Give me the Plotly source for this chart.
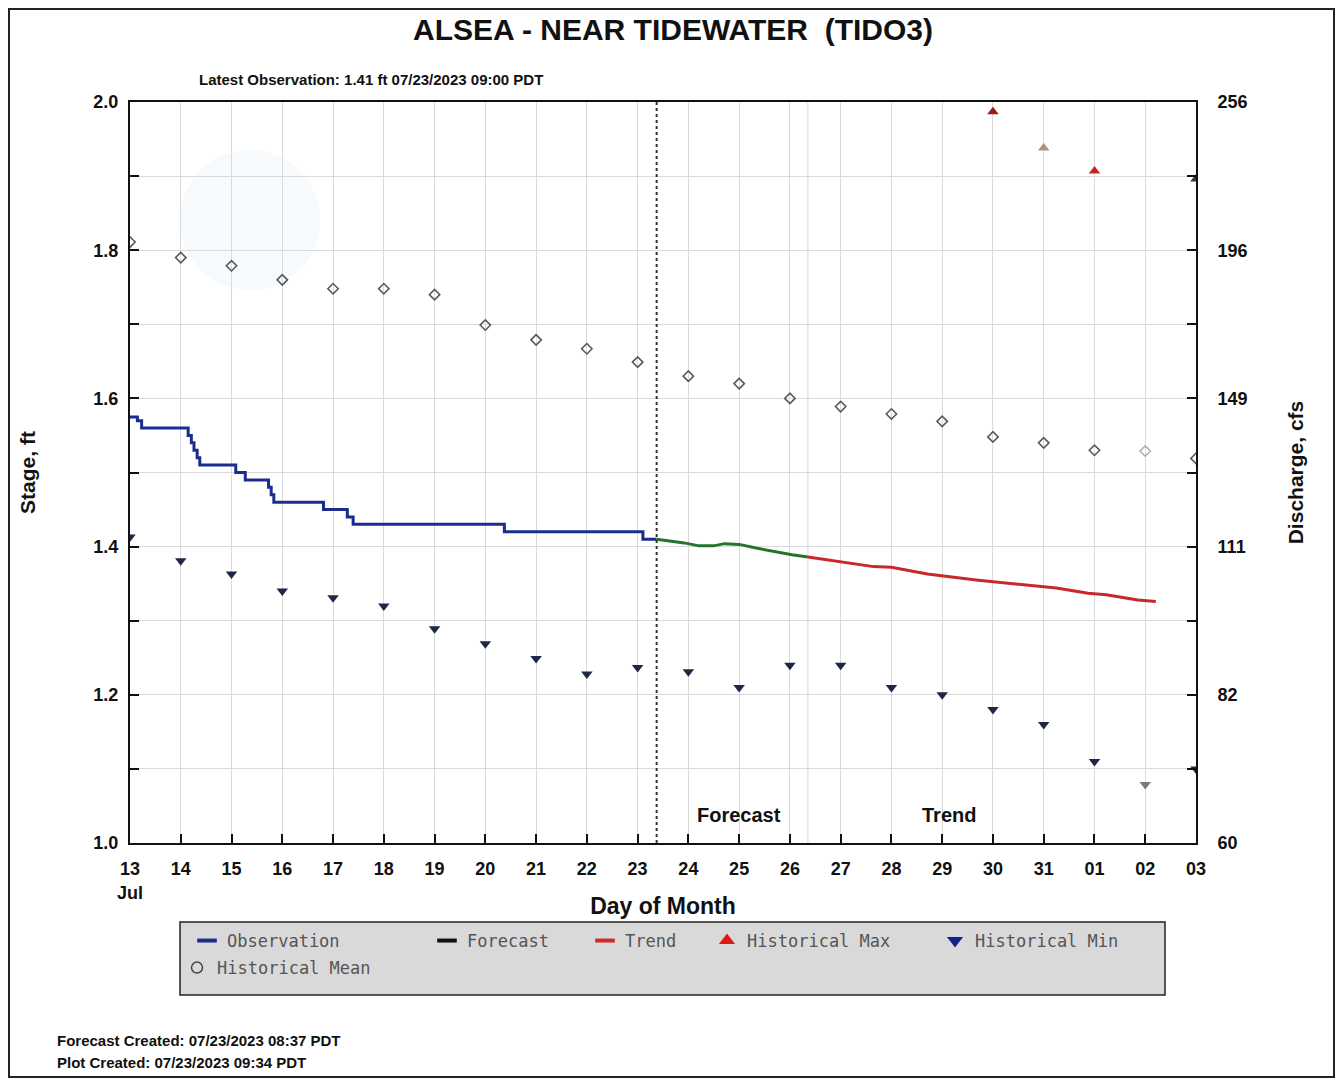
import plotly.graph_objects as go

# ---------------- data ----------------
OBS_TIME = ["2023-07-13 00:00", "2023-07-13 03:30", "2023-07-13 05:30", "2023-07-14 03:30",
            "2023-07-14 05:00", "2023-07-14 06:15", "2023-07-14 07:45", "2023-07-14 09:00",
            "2023-07-15 02:00", "2023-07-15 06:30", "2023-07-15 17:30", "2023-07-15 18:45",
            "2023-07-15 20:00", "2023-07-16 19:30", "2023-07-17 06:45", "2023-07-17 09:30",
            "2023-07-20 09:00", "2023-07-23 02:30", "2023-07-23 09:00"]
OBS_STAGE = [1.575, 1.57, 1.56, 1.55, 1.54, 1.53, 1.52, 1.51, 1.50, 1.49, 1.48, 1.47,
             1.46, 1.45, 1.44, 1.43, 1.42, 1.41, 1.41]

FC_TIME = ["2023-07-23 09:00", "2023-07-23 22:00", "2023-07-24 05:00", "2023-07-24 12:00",
           "2023-07-24 17:00", "2023-07-25 00:00", "2023-07-25 08:00", "2023-07-25 16:30",
           "2023-07-26 01:00", "2023-07-26 08:30"]
FC_STAGE = [1.41, 1.405, 1.401, 1.401, 1.404, 1.403, 1.398, 1.393, 1.389, 1.386]

TR_TIME = ["2023-07-26 08:30", "2023-07-26 22:00", "2023-07-27 15:30", "2023-07-28 00:00",
           "2023-07-28 17:00", "2023-07-29 16:00", "2023-07-30 02:30", "2023-07-30 17:30",
           "2023-07-31 06:00", "2023-07-31 21:00", "2023-08-01 05:30", "2023-08-01 20:30",
           "2023-08-02 05:00"]
TR_STAGE = [1.386, 1.380, 1.373, 1.372, 1.363, 1.355, 1.352, 1.347, 1.344, 1.337, 1.335,
            1.328, 1.326]

DAYS = ["2023-07-13", "2023-07-14", "2023-07-15", "2023-07-16", "2023-07-17", "2023-07-18",
        "2023-07-19", "2023-07-20", "2023-07-21", "2023-07-22", "2023-07-23", "2023-07-24",
        "2023-07-25", "2023-07-26", "2023-07-27", "2023-07-28", "2023-07-29", "2023-07-30",
        "2023-07-31", "2023-08-01", "2023-08-02", "2023-08-03"]
MEAN_STAGE = [1.811, 1.790, 1.779, 1.760, 1.748, 1.748, 1.740, 1.699, 1.679, 1.667, 1.649,
              1.630, 1.620, 1.600, 1.589, 1.579, 1.569, 1.548, 1.540, 1.530, 1.529, 1.519]
MIN_STAGE = [1.413, 1.381, 1.363, 1.340, 1.331, 1.320, 1.289, 1.269, 1.249, 1.228, 1.237,
             1.231, 1.210, 1.240, 1.240, 1.210, 1.200, 1.180, 1.160, 1.110, 1.079, 1.100]

MAX_DAYS = ["2023-07-30", "2023-07-31", "2023-08-01", "2023-08-03"]
MAX_STAGE = [1.987, 1.938, 1.907, 1.896]

STAGE_TICKS = [1.0, 1.1, 1.2, 1.3, 1.4, 1.5, 1.6, 1.7, 1.8, 1.9, 2.0]
STAGE_LABELS = ["1.0", "", "1.2", "", "1.4", "", "1.6", "", "1.8", "", "2.0"]
FLOW_LABELS = ["60", "", "82", "", "111", "", "149", "", "196", "", "256"]

X_RANGE = ["2023-07-13", "2023-08-03"]
LATEST_OBS_TIME = "2023-07-23 09:00"
FC_END_TIME = "2023-07-26 08:30"

# ---------------- layout helpers (page pixels -> paper) ----------------
PL, PR, PT, PB = 130, 1196, 102, 843


def px(x):
    return (x - PL) / (PR - PL)


def py(y):
    return (PB - y) / (PB - PT)


FONT = "Liberation Sans Narrow, Arial Narrow, Liberation Sans, Arial, sans-serif"
MONO = "DejaVu Sans Mono, Liberation Mono, monospace"

mean_colors = ["#5a5a5a"] * len(DAYS)
mean_colors[20] = "#b0b0b0"
min_colors = ["#1e2746"] * len(DAYS)
min_colors[20] = "#7a7a7a"
max_colors = ["#a01818", "#a89282", "#c0281f", "#3a3a3a"]

fig = go.Figure()

fig.add_trace(go.Scatter(x=OBS_TIME, y=OBS_STAGE, mode="lines", line=dict(color="#1b2c8f", width=3, shape="hv"),
                         showlegend=False, hoverinfo="skip"))
fig.add_trace(go.Scatter(x=FC_TIME, y=FC_STAGE, mode="lines", line=dict(color="#23752a", width=3),
                         showlegend=False))
fig.add_trace(go.Scatter(x=TR_TIME, y=TR_STAGE, mode="lines", line=dict(color="#c8282a", width=3),
                         showlegend=False))
fig.add_trace(go.Scatter(x=DAYS, y=MEAN_STAGE, mode="markers",
                         marker=dict(symbol="diamond-open", size=8, color=mean_colors, line=dict(width=1.6)),
                         showlegend=False))
fig.add_trace(go.Scatter(x=DAYS, y=MIN_STAGE, mode="markers",
                         marker=dict(symbol="triangle-down", size=10, color=min_colors),
                         showlegend=False))
fig.add_trace(go.Scatter(x=MAX_DAYS, y=MAX_STAGE, mode="markers",
                         marker=dict(symbol="triangle-up", size=10, color=max_colors),
                         showlegend=False))
# secondary (discharge) axis anchor
fig.add_trace(go.Scatter(x=[None], y=[None], yaxis="y2", showlegend=False, hoverinfo="skip"))


# legend entries
def dash_entry(name, color, width):
    return go.Scatter(x=[None], y=[None], mode="markers", name=name, legendwidth=width,
                      marker=dict(symbol="line-ew", size=14, color=color, line=dict(width=4, color=color)))


fig.add_trace(dash_entry("Observation", "#1b2c8f", 195))
fig.add_trace(dash_entry("Forecast", "#111111", 113))
fig.add_trace(dash_entry("Trend", "#d02a2a", 77))
fig.add_trace(go.Scatter(x=[None], y=[None], mode="markers", name="Historical Max", legendwidth=183,
                         marker=dict(symbol="triangle-up", size=14, color="#e01818")))
fig.add_trace(go.Scatter(x=[None], y=[None], mode="markers", name="Historical Min", legendwidth=165,
                         marker=dict(symbol="triangle-down", size=14, color="#16208a")))
fig.add_trace(go.Scatter(x=[None], y=[None], mode="markers", name="Historical Mean", legend="legend2",
                         marker=dict(symbol="circle-open", size=11, color="#444", line=dict(width=1.5))))

axis_font = dict(family=FONT, size=18, color="#111", weight="bold")

fig.update_layout(
    width=1327, height=1070,
    margin=dict(l=122, r=139, t=94, b=235),
    paper_bgcolor="white", plot_bgcolor="white",
    font=dict(family=FONT, color="#111"),
    xaxis=dict(type="date", range=X_RANGE, dtick=86400000, tick0="2023-07-13", tickformat="%d",
               ticks="inside", ticklen=9, tickwidth=2, tickcolor="#111", ticklabelstandoff=8,
               showline=True, linecolor="#111", linewidth=2, mirror=True,
               showgrid=True, gridcolor="#dadada", gridwidth=1, zeroline=False,
               tickfont=axis_font,
               title=dict(text="Day of Month", font=dict(family=FONT, size=23, color="#111", weight="bold"),
                          standoff=20)),
    yaxis=dict(range=[1, 2], tickvals=STAGE_TICKS, ticktext=STAGE_LABELS,
               ticks="inside", ticklen=9, tickwidth=2, tickcolor="#111", ticklabelstandoff=6,
               showline=True, linecolor="#111", linewidth=2,
               showgrid=True, gridcolor="#dadada", gridwidth=1, zeroline=False,
               tickfont=axis_font,
               title=dict(text="Stage, ft", font=dict(family=FONT, size=21, color="#111", weight="bold"),
                          standoff=52)),
    yaxis2=dict(range=[1, 2], overlaying="y", side="right", tickvals=STAGE_TICKS, ticktext=FLOW_LABELS,
                ticks="inside", ticklen=9, tickwidth=2, tickcolor="#111", ticklabelstandoff=16,
                showline=True, linecolor="#111", linewidth=2, showgrid=False, zeroline=False,
                tickfont=axis_font,
                title=dict(text="Discharge, cfs", font=dict(family=FONT, size=21, color="#111", weight="bold"),
                           standoff=42)),
    legend=dict(orientation="h", x=px(187), xanchor="left", y=py(923), yanchor="top",
                bgcolor="rgba(0,0,0,0)", borderwidth=0, itemwidth=30,
                font=dict(family=MONO, size=17, color="#555")),
    legend2=dict(orientation="h", x=px(177), xanchor="left", y=py(950), yanchor="top",
                 bgcolor="rgba(0,0,0,0)", borderwidth=0, itemwidth=30,
                 font=dict(family=MONO, size=17, color="#555")),
)

shapes = [
    # watermark
    dict(type="circle", xref="paper", yref="paper", x0=px(180), x1=px(320), y0=py(290), y1=py(150),
         fillcolor="rgba(205,230,240,0.18)", line=dict(width=0), layer="below"),
    # forecast start (latest observation)
    dict(type="line", xref="x", yref="paper", x0=LATEST_OBS_TIME, x1=LATEST_OBS_TIME, y0=0, y1=1,
         line=dict(color="#333", width=2, dash="dot")),
    # forecast / trend boundary
    dict(type="line", xref="x", yref="paper", x0=FC_END_TIME, x1=FC_END_TIME, y0=0, y1=1,
         line=dict(color="#d8d8d8", width=1), layer="below"),
    # legend box
    dict(type="rect", xref="paper", yref="paper", x0=px(180), x1=px(1165), y0=py(995), y1=py(922),
         fillcolor="#d9d9d9", line=dict(color="#222", width=1.5), layer="below"),
    # outer frame
    dict(type="rect", xref="paper", yref="paper", x0=px(9), x1=px(1334), y0=py(1077), y1=py(9),
         fillcolor="rgba(0,0,0,0)", line=dict(color="#222", width=2)),
]
fig.update_layout(shapes=shapes)


def note(text, x, y, size, xanchor="center", xref="paper", yref="paper"):
    return dict(text=text, xref=xref, yref=yref, x=x, y=y, xanchor=xanchor, yanchor="middle",
                showarrow=False, font=dict(family=FONT, size=size, color="#111", weight="bold"))


ann = [
    note("ALSEA - NEAR TIDEWATER \u00a0(TIDO3)", px(673), py(30), 30),
    note("Latest Observation: 1.41 ft 07/23/2023 09:00 PDT", px(197), py(80), 15, xanchor="left"),
    note("Jul", X_RANGE[0], py(893), 18, xref="x"),
    note("Forecast", "2023-07-25", 1.038, 20, xref="x", yref="y"),
    note("Trend", "2023-07-29 03:00", 1.038, 20, xref="x", yref="y"),
    note("Forecast Created: 07/23/2023 08:37 PDT", px(55), py(1040), 15, xanchor="left"),
    note("Plot Created: 07/23/2023 09:34 PDT", px(55), py(1062), 15, xanchor="left"),
]
fig.update_layout(annotations=ann)

fig.write_html("out.html")
